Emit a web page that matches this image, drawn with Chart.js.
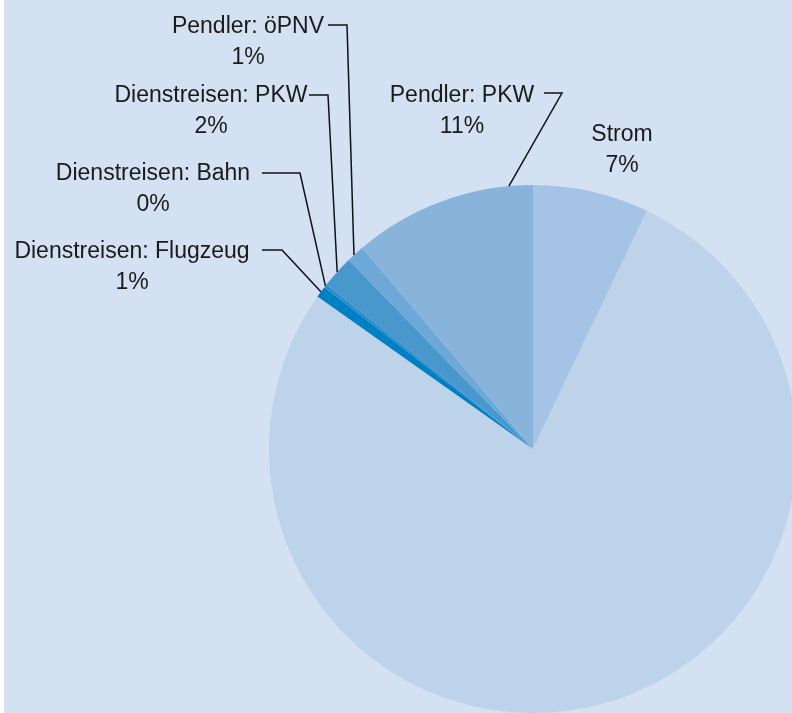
<!DOCTYPE html>
<html lang="de">
<head>
<meta charset="utf-8">
<title>Anteile</title>
<script src="https://cdn.jsdelivr.net/npm/chart.js@4.4.0/dist/chart.umd.min.js"></script>
<style>
    html, body {
        margin: 0;
        padding: 0;
        background: #ffffff;
        overflow: hidden;
        width: 792px;
        height: 713px;
    }
    #wrap {
        position: absolute;
        left: 4px;
        top: 0;
        width: 810px;
        height: 713px;
        background: #d4e1f2;
    }
</style>
</head>
<body>
<div id="wrap"><canvas id="pie"></canvas></div>
<script>
// Data, clockwise from 12 o'clock
const categories = ['Strom', 'Wärme', 'Dienstreisen: Flugzeug', 'Dienstreisen: Bahn', 'Dienstreisen: PKW', 'Pendler: öPNV', 'Pendler: PKW'];
const shares = [7.1, 77.7, 0.7, 0.2, 2.0, 1.1, 11.2];
const shareLabels = ['7%', '78%', '1%', '0%', '2%', '1%', '11%'];
const sliceColors = ['#a4c3e5', '#bcd3ea', '#0080c4', '#2a8cc9', '#4898cd', '#6ea8d8', '#88b4dc'];

// Label placement (page coordinates); null = no label shown
const labelLayout = [
    { x: 622, y: 141 },
    null,
    { x: 132, y: 258, lineFrom: 262, elbow: 282, lineY: 250, frac: 0.5 },
    { x: 153, y: 180, lineFrom: 262, elbow: 300, lineY: 173, frac: 0.5 },
    { x: 211, y: 102, lineFrom: 309, elbow: 328, lineY: 95, frac: 0.5 },
    { x: 248, y: 33, lineFrom: 328, elbow: 347, lineY: 25, frac: 0.4 },
    { x: 462, y: 102, lineFrom: 544, elbow: 562, lineY: 93, frac: 0.87 }
];
const offsetX = 4; // canvas starts 4px in from the page edge

const labelPlugin = {
    id: 'sliceLabels',
    afterDatasetsDraw(chart) {
        const ctx = chart.ctx;
        const arcs = chart.getDatasetMeta(0).data;
        ctx.save();
        ctx.font = '23px "Liberation Sans", Arial, sans-serif';
        ctx.fillStyle = '#1a1a1a';
        ctx.textAlign = 'center';
        ctx.textBaseline = 'alphabetic';
        labelLayout.forEach((lab, i) => {
            if (!lab) return;
            const x = lab.x - offsetX;
            ctx.fillText(categories[i], x, lab.y);
            ctx.fillText(shareLabels[i], x, lab.y + 31);

            if (lab.lineFrom === undefined) return;
            const arc = arcs[i];
            const p = arc.getProps(['x', 'y', 'startAngle', 'endAngle', 'outerRadius'], true);
            const a = p.startAngle + lab.frac * (p.endAngle - p.startAngle);
            const ex = p.x + Math.cos(a) * p.outerRadius;
            const ey = p.y + Math.sin(a) * p.outerRadius;
            ctx.beginPath();
            ctx.strokeStyle = '#111111';
            ctx.lineWidth = 1.5;
            ctx.moveTo(lab.lineFrom - offsetX, lab.lineY);
            ctx.lineTo(lab.elbow - offsetX, lab.lineY);
            ctx.lineTo(ex, ey);
            ctx.stroke();
        });
        ctx.restore();
    }
};

const chart = new Chart(document.getElementById('pie'), {
    type: 'pie',
    data: {
        labels: categories,
        datasets: [{
            data: shares,
            backgroundColor: sliceColors,
            borderWidth: 0
        }]
    },
    options: {
        responsive: true,
        maintainAspectRatio: false,
        animation: false,
        layout: {
            padding: { left: 265, right: 17, top: 185, bottom: 0 }
        },
        plugins: {
            legend: { display: false },
            tooltip: { enabled: false }
        }
    },
    plugins: [labelPlugin]
});
</script>
</body>
</html>
